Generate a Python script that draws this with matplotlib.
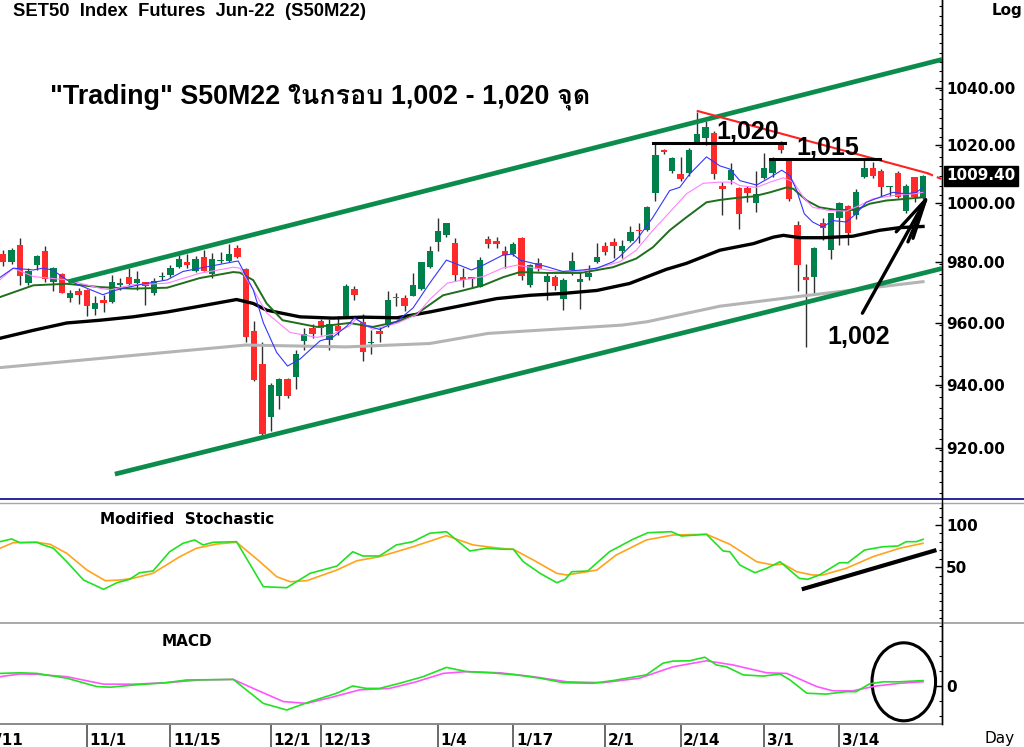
import numpy as np
import matplotlib
matplotlib.use('Agg')
import matplotlib.pyplot as plt
from matplotlib import font_manager
from matplotlib.ft2font import FT2Font
from matplotlib.patches import Ellipse
from matplotlib.ticker import FixedLocator, NullFormatter, FormatStrFormatter

#---------------- data ----------------
# daily candles (bar number 0 .. 110)
opens = [982.9, 980.3, 986.0, 973.1, 979.2, 983.7, 973.6, 976.1, 968.2, 970.4,
         971.0, 964.5, 967.4, 966.8, 972.5, 975.1, 973.1, 973.4, 970.0, 975.2,
         975.9, 978.5, 980.3, 977.3, 981.7, 976.2, 980.5, 980.6, 985.0, 977.8,
         957.5, 946.8, 929.8, 936.4, 941.9, 942.6, 954.1, 958.5, 960.5, 954.6,
         959.1, 962.4, 971.3, 960.3, 953.4, 957.5, 959.2, 968.4, 968.2, 969.0,
         971.3, 978.5, 986.7, 989.3, 986.5, 975.2, 975.2, 972.0, 987.8, 987.3,
         983.7, 982.9, 988.2, 972.5, 979.8, 973.6, 975.1, 968.0, 977.5, 973.6,
         975.1, 980.1, 985.4, 986.7, 983.9, 987.3, 990.8, 991.0, 1003.4, 1018.1,
         1010.9, 1010.0, 1010.5, 1020.6, 1022.3, 1024.3, 1006.0, 1007.9, 1005.2, 1005.2,
         1000.1, 1008.6, 1010.5, 1020.6, 1014.8, 992.5, 975.1, 975.1, 993.3, 984.1,
         995.1, 999.1, 996.0, 1008.8, 1012.2, 1010.9, 1005.5, 1010.5, 997.5, 1008.8,
         1001.8]
highs = [984.3, 985.0, 988.2, 978.1, 982.6, 985.4, 978.6, 976.5, 971.0, 971.6,
         971.3, 968.7, 969.3, 975.9, 974.8, 978.1, 977.0, 973.6, 974.8, 976.7,
         979.2, 982.6, 982.9, 982.0, 984.3, 983.1, 983.4, 986.3, 986.0, 978.0,
         960.7, 953.9, 940.5, 942.3, 942.3, 951.3, 958.2, 959.5, 961.4, 961.4,
         962.4, 972.9, 972.1, 962.9, 957.7, 958.7, 970.6, 969.9, 969.3, 976.4,
         980.2, 985.4, 994.9, 993.4, 988.2, 978.1, 975.3, 981.7, 989.0, 988.7,
         985.4, 986.7, 988.7, 979.6, 981.5, 976.4, 975.9, 974.8, 983.4, 977.5,
         979.2, 986.5, 987.0, 988.2, 987.6, 992.1, 993.4, 999.0, 1020.6, 1018.6,
         1015.7, 1015.7, 1019.1, 1031.6, 1028.5, 1024.9, 1007.1, 1013.9, 1005.7, 1006.0,
         1011.1, 1017.4, 1015.7, 1021.4, 1015.1, 994.1, 979.6, 985.3, 994.9, 996.8,
         1000.4, 999.3, 1004.9, 1015.1, 1014.1, 1011.6, 1006.0, 1011.1, 1006.6, 1009.0,
         1009.7]
lows = [978.9, 979.5, 972.5, 972.5, 977.6, 973.6, 970.4, 969.9, 966.8, 966.1,
        962.4, 962.6, 963.5, 966.7, 971.0, 972.2, 971.0, 965.8, 969.3, 974.2,
        975.3, 978.1, 978.1, 976.7, 977.0, 974.8, 979.8, 980.3, 981.6, 953.9,
        941.2, 924.0, 925.3, 932.2, 935.9, 938.7, 951.3, 955.0, 956.0, 951.3,
        956.0, 962.0, 967.7, 947.6, 950.0, 953.9, 958.7, 965.6, 963.8, 968.7,
        971.0, 978.1, 983.7, 988.7, 973.9, 972.0, 972.0, 972.0, 984.8, 984.8,
        978.3, 982.0, 974.2, 972.0, 977.0, 967.7, 971.0, 964.3, 975.9, 964.5,
        974.2, 979.8, 982.6, 981.5, 981.5, 987.0, 986.6, 990.6, 1000.9, 1016.9,
        1010.5, 1007.7, 1009.4, 1020.6, 1020.0, 1008.3, 995.9, 1006.6, 991.4, 1000.4,
        996.9, 1008.3, 1008.8, 1017.3, 1000.9, 970.4, 952.1, 969.9, 987.4, 981.3,
        985.7, 985.7, 994.7, 1008.6, 1008.6, 1002.6, 1002.6, 1001.8, 996.5, 1000.4,
        1001.5]
closes = [980.0, 984.3, 975.5, 977.2, 982.0, 974.5, 978.1, 970.0, 969.9, 969.1,
          965.6, 966.4, 966.7, 973.6, 973.3, 972.9, 974.4, 972.2, 973.9, 975.4,
          978.3, 981.2, 979.0, 981.1, 977.2, 981.2, 980.7, 982.8, 981.7, 955.4,
          941.6, 924.2, 940.0, 941.7, 936.4, 950.0, 956.3, 956.4, 958.5, 959.8,
          957.3, 972.1, 969.2, 950.5, 953.8, 956.3, 967.4, 968.1, 965.6, 972.4,
          980.0, 983.9, 990.4, 993.2, 975.9, 974.2, 974.4, 980.7, 986.3, 986.3,
          982.6, 986.3, 975.6, 979.2, 977.8, 975.6, 972.3, 974.2, 980.6, 974.4,
          976.4, 981.7, 983.4, 985.4, 985.4, 990.1, 990.6, 998.6, 1016.6, 1017.7,
          1015.5, 1008.3, 1018.3, 1023.7, 1026.3, 1010.0, 1004.9, 1011.3, 996.3, 1003.6,
          1003.3, 1012.0, 1014.8, 1018.3, 1001.5, 979.2, 974.0, 984.9, 991.6, 996.6,
          1000.1, 990.0, 1003.7, 1011.9, 1009.4, 1005.7, 1005.8, 1002.0, 1006.0, 1002.0,
          1009.4]

# moving averages (bar number, price)
ma_fast_x = [-0.4, 1.2, 3.6, 4.7, 5.9, 7.6, 9.5, 11.9, 13.6, 16.3, 19.6, 21.5, 23.5, 27.5, 28.1,
             29.9, 31.1, 32.7, 34.0, 35.5, 37.9, 39.4, 41.1, 42.0, 43.5, 45.0, 47.1, 49.0, 51.0,
             53.0, 55.0, 56.0, 57.4, 59.7, 60.9, 61.8, 65.0, 66.9, 69.3, 71.0, 72.9, 73.7, 75.7,
             77.7, 79.7, 80.9, 82.1, 84.1, 85.7, 86.9, 88.1, 90.1, 91.7, 93.1, 94.1, 94.9, 95.8,
             96.8, 98.0, 99.2, 100.8, 102.0, 103.2, 104.8, 106.4, 108.0, 109.2, 110.0]
ma_fast_y = [975.0, 978.1, 977.5, 978.1, 977.5, 974.2, 972.0, 969.3, 970.9, 972.6, 974.2, 977.0,
             978.1, 980.2, 980.5, 970.9, 960.1, 950.4, 946.0, 948.3, 954.2, 955.3, 959.0, 961.7,
             959.0, 957.9, 960.6, 964.9, 973.1, 980.8, 978.6, 977.5, 979.1, 982.4, 982.8, 980.8,
             978.6, 977.0, 977.5, 978.1, 980.2, 981.9, 987.4, 995.2, 1004.3, 1005.4, 1010.0,
             1015.9, 1012.8, 1011.7, 1007.7, 1006.2, 1008.8, 1011.3, 1009.4, 1004.3, 996.4,
             993.6, 991.9, 994.1, 993.6, 996.4, 1000.3, 1002.0, 1003.7, 1003.2, 1003.7, 1005.4]
ma_mid_x = [-0.4, 1.2, 3.6, 7.6, 11.6, 12.8, 15.5, 19.6, 23.5, 27.5, 28.3, 29.9, 31.5, 34.3,
            37.5, 39.4, 41.4, 42.2, 44.2, 47.1, 49.5, 51.0, 53.1, 55.0, 57.4, 59.7, 61.4, 63.0,
            66.2, 69.0, 71.0, 73.7, 75.7, 77.7, 79.7, 81.7, 83.7, 85.7, 87.3, 88.1, 90.1, 91.7,
            93.3, 94.5, 95.7, 96.8, 98.8, 100.8, 102.4, 104.0, 106.4, 108.8, 110.0]
ma_mid_y = [974.2, 978.1, 975.3, 974.2, 971.4, 970.9, 972.6, 973.1, 976.4, 978.4, 978.1, 970.9,
            963.3, 956.9, 955.3, 956.3, 959.0, 961.2, 957.9, 959.9, 962.8, 967.7, 973.1, 974.2,
            975.3, 978.1, 979.1, 978.4, 977.0, 977.0, 978.1, 980.2, 984.1, 990.8, 996.9, 1003.2,
            1006.8, 1007.2, 1007.2, 1006.0, 1005.4, 1007.2, 1008.7, 1007.2, 1002.0, 998.6,
            997.5, 997.3, 999.2, 1001.5, 1002.6, 1003.2, 1003.7]
ma_slow_x = [-0.4, 3.6, 7.6, 11.6, 15.5, 19.6, 23.5, 27.5, 28.3, 29.9, 31.5, 33.4, 37.5, 41.4,
             44.2, 47.1, 49.5, 52.6, 55.0, 57.4, 59.8, 61.8, 65.0, 69.0, 72.9, 75.7, 77.7, 79.7,
             81.7, 84.1, 85.7, 87.7, 89.7, 91.7, 93.7, 94.5, 96.1, 97.6, 99.6, 102.0, 103.6,
             105.6, 108.0, 110.0]
ma_slow_y = [968.5, 972.4, 972.9, 971.8, 971.3, 971.6, 974.8, 976.8, 976.6, 974.1, 966.4, 960.9,
             958.7, 960.0, 958.7, 960.4, 963.1, 969.1, 970.7, 972.4, 975.1, 976.8, 976.5, 976.5,
             978.4, 981.3, 985.1, 990.8, 995.2, 1000.3, 1001.1, 1001.8, 1002.3, 1003.7, 1005.4,
             1004.9, 1000.9, 998.6, 997.7, 997.7, 999.8, 1000.9, 1001.5, 1002.0]
ma_long_x = [-0.4, 3.6, 7.6, 11.6, 15.5, 19.6, 23.5, 27.9, 29.9, 31.5, 35.5, 39.4, 43.0, 47.1,
             51.0, 55.0, 59.0, 63.0, 66.9, 71.0, 74.9, 79.3, 81.7, 85.7, 89.7, 92.1, 93.3, 95.3,
             98.0, 101.6, 104.8, 107.2, 110.0]
ma_long_y = [955.0, 957.6, 960.0, 960.9, 962.0, 963.6, 965.5, 967.7, 966.4, 964.2, 962.0, 961.6,
             961.9, 961.7, 963.6, 965.8, 968.0, 969.1, 969.7, 970.7, 973.0, 977.7, 979.7, 984.1,
             986.3, 988.5, 989.1, 988.3, 988.3, 988.8, 990.8, 991.7, 992.1]
ma_200_x = [-0.4, 29.0, 41.0, 51.0, 58.0, 74.0, 77.0, 85.7, 96.0, 110.0]
ma_200_y = [945.5, 952.8, 952.2, 953.3, 956.6, 959.3, 960.4, 965.5, 969.0, 973.6]

# modified stochastic
stoch_k_x = [-0.4, 1.0, 2.0, 4.0, 4.8, 6.0, 7.6, 9.6, 12.0, 13.6, 15.1, 16.3, 17.9, 19.9, 21.5,
             22.9, 23.9, 25.1, 27.9, 31.1, 33.9, 36.7, 39.9, 41.8, 43.0, 45.0, 47.0, 49.0, 51.0,
             53.0, 55.8, 57.8, 59.8, 61.0, 62.2, 64.2, 66.2, 67.2, 68.0, 69.9, 72.5, 75.3, 77.1,
             79.9, 81.1, 84.1, 86.1, 86.9, 88.1, 89.9, 91.3, 92.9, 95.2, 96.2, 97.6, 100.0,
             101.0, 103.0, 105.2, 107.0, 108.0, 109.2, 110.0]
stoch_k_y = [80.3, 83.5, 79.1, 79.6, 76.4, 72.5, 56.6, 35.0, 24.0, 31.8, 35.8, 43.6, 45.6, 68.4,
             78.4, 82.3, 76.4, 79.6, 80.3, 27.1, 25.9, 42.9, 51.5, 68.4, 63.4, 63.4, 76.4, 80.3,
             90.2, 92.1, 69.3, 72.5, 71.3, 71.3, 56.6, 42.9, 31.8, 35.8, 44.8, 45.6, 68.4, 83.1,
             90.9, 92.1, 87.0, 89.0, 69.3, 68.4, 52.7, 43.6, 48.8, 56.6, 37.0, 35.8, 40.9, 55.4,
             55.4, 70.4, 74.3, 75.2, 80.3, 80.3, 83.1]
stoch_d_x = [-0.4, 1.2, 4.0, 5.6, 7.6, 10.0, 12.2, 14.0, 15.5, 17.9, 21.1, 23.1, 25.5, 27.9,
             30.7, 32.7, 34.3, 36.3, 39.9, 42.3, 45.0, 49.0, 53.0, 56.2, 59.4, 61.0, 63.4, 66.2,
             67.4, 69.8, 71.0, 73.3, 76.9, 80.1, 84.1, 86.9, 90.1, 92.1, 93.3, 94.9, 96.8, 98.0,
             100.8, 104.0, 107.2, 110.0]
stoch_d_y = [72.5, 79.1, 79.6, 77.2, 66.5, 46.8, 34.2, 35.0, 37.0, 42.9, 62.5, 72.5, 77.5, 79.6,
             56.6, 38.9, 33.0, 34.2, 46.8, 57.8, 62.5, 74.3, 87.4, 76.4, 72.5, 71.3, 58.6, 42.9,
             40.9, 44.8, 46.8, 64.5, 82.3, 88.2, 89.0, 77.2, 56.6, 52.7, 53.9, 44.8, 40.9, 40.9,
             48.8, 62.5, 72.5, 78.4]

# MACD
macd_x = [-0.4, 2.0, 4.0, 7.6, 11.2, 12.8, 15.5, 19.5, 21.9, 27.5, 31.1, 33.9, 36.7, 39.9, 41.8,
          43.4, 45.0, 47.4, 50.2, 53.0, 55.4, 58.2, 61.4, 64.2, 67.0, 70.5, 72.9, 76.9, 78.9,
          80.1, 82.1, 83.9, 85.3, 86.5, 88.5, 90.9, 92.9, 94.1, 96.1, 98.4, 100.8, 102.0, 103.6,
          105.2, 107.2, 110.0]
macd_y = [4.2, 4.4, 4.2, 2.6, -0.2, -0.4, 0.3, 1.1, 2.0, 2.2, -5.8, -8.0, -5.2, -2.4, 0.0,
          -0.8, -0.8, 0.9, 3.1, 6.2, 4.8, 4.4, 3.7, 2.6, 1.1, 0.9, 1.8, 3.7, 7.6, 8.3, 8.4, 9.6,
          7.0, 6.4, 3.7, 3.3, 4.0, 2.0, -2.4, -2.7, -1.9, -1.9, 0.7, 1.4, 1.4, 1.8]
signal_x = [-0.4, 2.0, 4.0, 7.6, 12.0, 15.5, 19.5, 23.5, 27.5, 30.3, 33.5, 36.3, 39.5, 42.6,
            46.2, 49.4, 52.6, 55.4, 59.4, 63.4, 67.4, 71.7, 76.1, 80.1, 84.1, 87.3, 91.3, 93.7,
            97.3, 99.2, 101.6, 104.4, 107.2, 110.0]
signal_y = [3.1, 4.0, 3.9, 3.1, 0.6, 0.6, 1.1, 2.0, 2.2, -1.3, -5.2, -5.8, -3.6, -1.3, -0.8, 1.4,
            4.2, 4.8, 4.4, 3.1, 1.4, 1.1, 2.6, 6.4, 8.4, 7.0, 4.4, 4.2, -0.2, -1.6, -1.6, 0.0,
            0.9, 1.4]

# drawn annotations (bar number, price)
channel_top = ([7.77, 112.27], [973.6, 1050.2])
channel_bottom = ([13.35, 112.27], [911.8, 978.0])
red_trend = ([83.06, 110.5], [1031.9, 1010.3])
red_trend_ext = ([110.5, 112.2], [1010.3, 1008.3])
level_1020 = ([77.7, 93.5], [1020.8, 1020.8])
level_1015 = ([91.7, 104.8], [1015.2, 1015.2])
arrow_shaft = ([102.75, 110.3], [963.2, 1001.1])
arrow_heads = [(106.8, 990.3), (108.2, 986.9), (108.8, 988.1)]
stoch_trend = ([95.5, 111.6], [24.0, 70.4])

date_labels = ['10/11', '11/1', '11/15', '12/1', '12/13', '1/4', '1/17', '2/1', '2/14', '3/1', '3/14']
date_bars = [-3.6, 10, 20, 32, 38, 52, 61, 72, 81, 91, 100]
price_ticks = [920, 940, 960, 980, 1000, 1020, 1040]
last_price = 1009.40

#---------------- fonts ----------------
thai_fams = []
for fe in font_manager.fontManager.ttflist:
    if fe.name in thai_fams:
        continue
    try:
        if 0x0E01 in FT2Font(fe.fname).get_charmap():
            thai_fams.append(fe.name)
    except Exception:
        pass
thai_family = ['Liberation Sans'] + thai_fams + ['DejaVu Sans']

#---------------- figure ----------------
W, H = 1024, 747
fig = plt.figure(figsize=(W / 100, H / 100), dpi=100, facecolor='white')

def fx(px):
    return px / W

def fy(py):
    return 1 - py / H

XL = (-0.39, 112.27)
ax = fig.add_axes([0, fy(499), fx(942), 499 / H])
ax_st = fig.add_axes([0, fy(623), fx(942), 120 / H])
ax_md = fig.add_axes([0, fy(724), fx(942), 101 / H])

for a in (ax, ax_st, ax_md):
    a.set_xlim(*XL)
    a.set_xticks([])
    a.set_facecolor('none')
    for s in ('left', 'top', 'bottom'):
        a.spines[s].set_visible(False)
    a.spines['right'].set_color('black')
    a.spines['right'].set_linewidth(1)
    a.yaxis.tick_right()

GREEN = '#00804a'
RED = '#ff2b2b'
CHAN = '#0c8c4c'

#---- candles
x = np.arange(len(opens))
o = np.array(opens); c = np.array(closes)
up = c >= o
ax.vlines(x, lows, highs, color='#303030', lw=1.0, zorder=2)
body_lo = np.minimum(o, c)
body_h = np.maximum(np.abs(c - o), 0.45)
ax.bar(x, body_h, bottom=body_lo, width=0.76,
       color=[GREEN if u else RED for u in up], zorder=3, linewidth=0)

#---- moving averages
ax.plot(ma_200_x, ma_200_y, color='#b4b4b4', lw=2.2, zorder=4)
ax.plot(ma_long_x, ma_long_y, color='black', lw=2.4, zorder=4)
ax.plot(ma_slow_x, ma_slow_y, color='#1e6e1e', lw=1.4, zorder=4)
ax.plot(ma_mid_x, ma_mid_y, color='#ff80ff', lw=0.8, zorder=4)
ax.plot(ma_fast_x, ma_fast_y, color='#3434ff', lw=0.8, zorder=4)

#---- hand drawn lines
ax.plot(*channel_top, color=CHAN, lw=3.4, zorder=5, solid_capstyle='butt')
ax.plot(*channel_bottom, color=CHAN, lw=3.4, zorder=5, solid_capstyle='butt')
ax.plot(*red_trend, color='#ff2020', lw=1.5, zorder=5)
ax.plot(*red_trend_ext, color='#ff2020', lw=1.5, ls=(0, (3, 2)), zorder=5)
ax.plot(*level_1020, color='black', lw=2.2, zorder=5)
ax.plot(*level_1015, color='black', lw=2.2, zorder=5)
ax.plot(*arrow_shaft, color='black', lw=2.4, zorder=6, solid_capstyle='round')
tip = (arrow_shaft[0][1], arrow_shaft[1][1])
for hx, hy in arrow_heads:
    ax.plot([hx, tip[0]], [hy, tip[1]], color='black', lw=2.4, zorder=6, solid_capstyle='round')

ax.text(89.0, 1024.6, '1,020', fontsize=18, fontweight='bold', family='Liberation Sans',
        ha='center', va='center', zorder=7)
ax.text(98.6, 1018.9, '1,015', fontsize=18, fontweight='bold', family='Liberation Sans',
        ha='center', va='center', zorder=7)
ax.text(102.3, 955.4, '1,002', fontsize=18, fontweight='bold', family='Liberation Sans',
        ha='center', va='center', zorder=7)

ax.set_yscale('log')
ax.set_ylim(904.1, 1071.7)
ax.yaxis.set_major_locator(FixedLocator(price_ticks))
ax.yaxis.set_minor_locator(FixedLocator(np.arange(906, 1072, 20 / 6)))
ax.yaxis.set_major_formatter(FormatStrFormatter('%.2f'))
ax.yaxis.set_minor_formatter(NullFormatter())
ax.tick_params(axis='y', which='major', direction='in', length=5, width=1, pad=3, labelsize=11)
ax.tick_params(axis='y', which='minor', direction='in', length=2.5, width=0.8)

#---- stochastic panel
ax_st.plot(stoch_d_x, stoch_d_y, color='#ffa31a', lw=1.2)
ax_st.plot(stoch_k_x, stoch_k_y, color='#22e022', lw=1.2)
ax_st.plot(*stoch_trend, color='black', lw=3.0, solid_capstyle='butt')
ax_st.set_ylim(-15.8, 126.0)
ax_st.yaxis.set_major_locator(FixedLocator([50, 100]))
ax_st.yaxis.set_minor_locator(FixedLocator(np.arange(-10, 130, 10)))
ax_st.yaxis.set_major_formatter(FormatStrFormatter('%d'))
ax_st.tick_params(axis='y', which='major', direction='in', length=5, width=1, pad=3, labelsize=11)
ax_st.tick_params(axis='y', which='minor', direction='in', length=2.5, width=0.8)

#---- MACD panel
ax_md.plot(signal_x, signal_y, color='#ff55ff', lw=1.2)
ax_md.plot(macd_x, macd_y, color='#22e022', lw=1.2)
ax_md.add_patch(Ellipse((107.7, 1.4), 7.6, 26.0, fill=False, ec='black', lw=2.2))
ax_md.set_ylim(-12.67, 21.0)
ax_md.yaxis.set_major_locator(FixedLocator([0]))
ax_md.yaxis.set_minor_locator(FixedLocator([-10, -5, 5, 10, 15, 20]))
ax_md.yaxis.set_major_formatter(FormatStrFormatter('%d'))
ax_md.tick_params(axis='y', which='major', direction='in', length=5, width=1, pad=3, labelsize=11)
ax_md.tick_params(axis='y', which='minor', direction='in', length=2.5, width=0.8)

for a in (ax, ax_st, ax_md):
    plt.setp(a.get_yticklabels(), fontweight='bold', family='DejaVu Sans')

#---- date axis under the MACD panel
tr = ax_md.get_xaxis_transform()
for lab, b in zip(date_labels, date_bars):
    ax_md.plot([b, b], [0, -0.25], color='#505050', lw=1.2, transform=tr, clip_on=False)
    ax_md.text(b + 0.3, -0.165, lab, transform=tr, fontsize=11, fontweight='bold',
               family='DejaVu Sans', ha='left', va='center', clip_on=False)

#---- frame lines between panels
def hline(py, x0, x1, color, lw):
    fig.add_artist(plt.Line2D([fx(x0), fx(x1)], [fy(py), fy(py)], color=color, lw=lw,
                              transform=fig.transFigure))

hline(499.3, 0, W, '#2828a0', 1.4)
hline(502.8, 0, W, '#a8a8a8', 1.0)
hline(623.3, 0, W, '#a8a8a8', 1.4)
hline(724.3, 0, 942, '#8a8a8a', 1.4)
fig.add_artist(plt.Line2D([fx(942), fx(942)], [fy(0), fy(724.3)], color='black', lw=1,
                          transform=fig.transFigure))

#---- texts
fig.text(fx(13), fy(11), 'SET50  Index  Futures  Jun-22  (S50M22)', fontsize=13.2,
         fontweight='bold', family='Liberation Sans', ha='left', va='center')
fig.text(fx(1022), fy(10), 'Log', fontsize=11, fontweight='bold', family='DejaVu Sans',
         ha='right', va='center')
fig.text(fx(50), fy(97), '"Trading" S50M22 ในกรอบ 1,002 - 1,020 จุด', fontsize=19.4,
         fontweight='bold', family=thai_family, ha='left', va='center')
fig.text(fx(100), fy(520), 'Modified  Stochastic', fontsize=11, fontweight='bold',
         family='DejaVu Sans', ha='left', va='center')
fig.text(fx(162), fy(641), 'MACD', fontsize=11, fontweight='bold', family='DejaVu Sans',
         ha='left', va='center')
fig.text(fx(1015), fy(738), 'Day', fontsize=11, family='DejaVu Sans', ha='right', va='center')

# last price tag
py_last = 88 - 2935 * np.log(last_price / 1040)
fig.text(fx(946), fy(py_last), '%.2f' % last_price, fontsize=11, fontweight='bold',
         family='DejaVu Sans', color='white', ha='left', va='center',
         bbox=dict(boxstyle='square,pad=0.16', fc='black', ec='black'))

fig.savefig('out.png', dpi=100, facecolor='white')
